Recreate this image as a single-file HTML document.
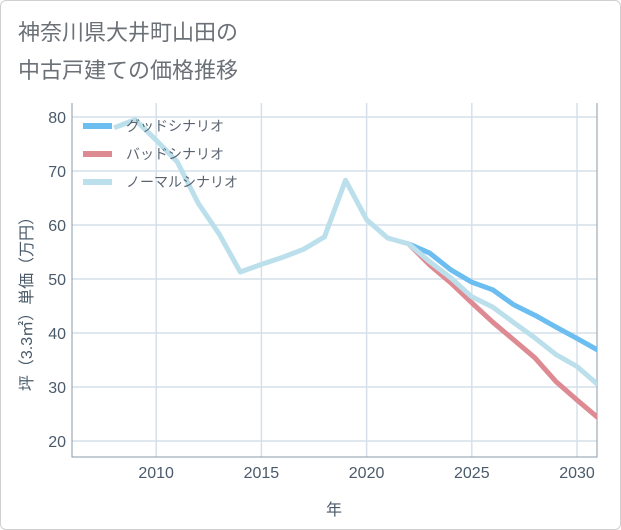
<!DOCTYPE html>
<html><head><meta charset="utf-8"><style>
body{margin:0;background:#fff;font-family:"Liberation Sans","Noto Sans CJK JP",sans-serif;}
#wrap{position:relative;width:619px;height:528px;border:1px solid #d0d0d0;border-radius:6px;overflow:hidden;}
</style></head><body>
<div id="wrap">
<svg id="chart" width="621" height="530" style="position:absolute;left:-1px;top:-1px">
<text x="18" y="40" font-size="22" fill="#6b7177" font-family="Liberation Sans, Noto Sans CJK JP, sans-serif">神奈川県大井町山田の</text>
<text x="18" y="78" font-size="22" fill="#6b7177" font-family="Liberation Sans, Noto Sans CJK JP, sans-serif">中古戸建ての価格推移</text>
<g id="grid"></g><g id="series"></g><g id="legend"></g>
</svg>
</div>
<script>
const years=[2008,2009,2010,2011,2012,2013,2014,2015,2016,2017,2018,2019,2020,2021,2022,2023,2024,2025,2026,2027,2028,2029,2030,2031];
const normalVals=[78,79.5,75.7,71.7,64,58.3,51.3,52.7,54,55.5,57.8,68.3,61,57.6,56.5,53.2,50.2,46.7,44.8,41.9,39.1,36,33.8,30.4];
const futureYears=[2022,2023,2024,2025,2026,2027,2028,2029,2030,2031];
const goodVals=[56.5,54.8,51.7,49.4,48,45.2,43.3,41.1,39,36.8];
const badVals=[56.5,52.6,49.3,45.6,42,38.7,35.4,31,27.6,24.3];
const xTicks=[2010,2015,2020,2025,2030];
const yTicks=[20,30,40,50,60,70,80];
const NS="http://www.w3.org/2000/svg";
const L=72,R=597,T=103,B=457;
const X=v=>L+(v-2006)*(R-L)/(2030.95-2006);
const Y=v=>117+(80-v)*5.4;
function mk(tag,attrs,parent){const e=document.createElementNS(NS,tag);for(const k in attrs)e.setAttribute(k,attrs[k]);parent.appendChild(e);return e;}
const svg=document.getElementById('chart');
const grid=document.getElementById('grid');
xTicks.forEach(t=>{
  const l=mk('line',{x1:X(t),x2:X(t),y1:T,y2:B,stroke:'#d5e0ea','stroke-width':1.5},grid);
  
  
  const tx=mk('text',{x:X(t),y:478,'text-anchor':'middle','font-size':16,fill:'#4a5a6a'},grid);
  tx.textContent=t;
  
  
});
yTicks.forEach(t=>{
  const l=mk('line',{x1:L,x2:R,y1:Y(t),y2:Y(t),stroke:'#d5e0ea','stroke-width':1.5},grid);
  
  
  const tx=mk('text',{x:66,y:Y(t)+6,'text-anchor':'end','font-size':16,fill:'#4a5a6a'},grid);
  tx.textContent=t;
  
  
});
const ax=mk('path',{d:`M${L},${T}V${B}H${R}V${T}`,fill:'none',stroke:'#8898a8','stroke-width':1},grid);


const xt=mk('text',{x:334,y:515,'text-anchor':'middle','font-size':16,fill:'#4a5a6a'},grid);
xt.textContent='年';


const yt=mk('text',{x:0,y:0,'text-anchor':'middle','font-size':16,fill:'#4a5a6a',transform:'translate(32,300) rotate(-90)'},grid);
yt.textContent='坪（3.3㎡）単価（万円）';


const ser=document.getElementById('series');
function line(xs,vs,color,name){
  const d=xs.map((x,i)=>(i?'L':'M')+X(x).toFixed(1)+','+Y(vs[i]).toFixed(1)).join('');
  const p=mk('path',{d:d,fill:'none',stroke:color,'stroke-width':5,'stroke-linejoin':'round'},ser);
  
  
}
const cp=mk('clipPath',{id:'clip'},svg);mk('rect',{x:L,y:T,width:R-L,height:B-T},cp);
ser.setAttribute('clip-path','url(#clip)');
line(futureYears,goodVals,'#6cbdf0','good-scenario-line');
line(futureYears,badVals,'#de8a93','bad-scenario-line');
line(years,normalVals,'#bcdfec','normal-scenario-line');
const lg=document.getElementById('legend');
[['グッドシナリオ','#6cbdf0','legend-good'],['バッドシナリオ','#de8a93','legend-bad'],['ノーマルシナリオ','#bcdfec','legend-normal']].forEach((e,i)=>{
  const y=126+i*28;
  const l=mk('line',{x1:83,x2:112,y1:y,y2:y,stroke:e[1],'stroke-width':6},lg);
  
  
  const t=mk('text',{x:126,y:y+5,'font-size':14,fill:'#5a6470'},lg);
  t.textContent=e[0];
  
  
});
</script>
</body></html>
